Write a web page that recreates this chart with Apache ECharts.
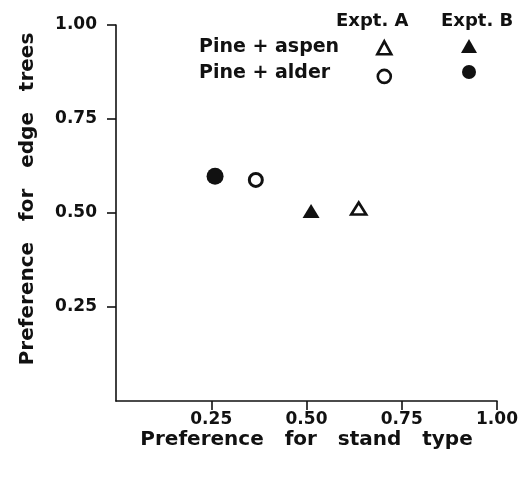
<!DOCTYPE html>
<html>
<head>
<meta charset="utf-8">
<script src="https://cdn.jsdelivr.net/npm/echarts@6/dist/echarts.min.js"></script>
<style>html,body{margin:0;padding:0;background:#fff;}#c{width:529px;height:479px;}</style>
</head>
<body>
<div id="c"></div>
<script>
// Data
const tickValues = [0.25, 0.5, 0.75, 1.0];
const tickLabels = ['0.25', '0.50', '0.75', '1.00'];
const aspenA = [[0.637, 0.512]]; // Pine + aspen, Expt. A (open triangle)
const aspenB = [[0.512, 0.505]]; // Pine + aspen, Expt. B (filled triangle)
const alderA = [[0.367, 0.588]]; // Pine + alder, Expt. A (open circle)
const alderB = [[0.260, 0.598]]; // Pine + alder, Expt. B (filled circle)
const rowLabels = ['Pine + aspen', 'Pine + alder'];
const colLabels = ['Expt. A', 'Expt. B'];

const FONT = '"DejaVu Sans"';
const INK = '#111';

function fmt(v) {
  const i = tickValues.indexOf(v);
  return i >= 0 ? tickLabels[i] : '';
}

const axisCommon = {
  type: 'value', min: 0, max: 1, interval: 0.25,
  splitLine: { show: false },
  axisLine: { show: true, lineStyle: { color: INK, width: 1.6 } },
  axisTick: { show: true, inside: false, length: 9, customValues: tickValues, lineStyle: { color: INK, width: 1.6 } },
  axisLabel: { customValues: tickValues, formatter: fmt, color: INK, fontFamily: FONT, fontWeight: 'bold', fontSize: 17 },
  nameLocation: 'middle',
  nameMoveOverlap: false,
  nameTextStyle: { color: INK, fontFamily: FONT, fontWeight: 'bold', fontSize: 20 }
};

const chart = echarts.init(document.getElementById('c'), null, { renderer: 'canvas' });
chart.setOption({
  animation: false,
  backgroundColor: '#fff',
  grid: { left: 116, right: 32, top: 25, bottom: 78, containLabel: false },
  xAxis: Object.assign({}, axisCommon, {
    name: 'Preference   for   stand   type', nameGap: 29,
    axisLabel: Object.assign({}, axisCommon.axisLabel, { margin: 10 })
  }),
  yAxis: Object.assign({}, axisCommon, {
    name: 'Preference   for   edge   trees', nameGap: 78,
    nameTextStyle: Object.assign({}, axisCommon.nameTextStyle, { padding: [0, 0, 0, 28] }),
    axisLabel: Object.assign({}, axisCommon.axisLabel, { margin: 19 })
  }),
  legend: [
    { orient: 'vertical', left: 371, top: 35, itemWidth: 14, itemHeight: 13, itemGap: 13,
      itemStyle: { borderWidth: 2.6 },
      formatter: () => '', data: [rowLabels[0] + ' A', rowLabels[1] + ' A'] },
    { orient: 'vertical', left: 456, top: 34, itemWidth: 16, itemHeight: 14, itemGap: 12,
      formatter: () => '', data: [rowLabels[0] + ' B', rowLabels[1] + ' B'] }
  ],
  graphic: [
    { type: 'text', left: 336, top: 12, style: { text: colLabels[0], font: 'bold 18px ' + FONT, fill: INK } },
    { type: 'text', left: 441, top: 12, style: { text: colLabels[1], font: 'bold 18px ' + FONT, fill: INK } },
    { type: 'text', left: 199, top: 38, style: { text: rowLabels[0], font: 'bold 19px ' + FONT, fill: INK } },
    { type: 'text', left: 199, top: 64, style: { text: rowLabels[1], font: 'bold 19px ' + FONT, fill: INK } }
  ],
  series: [
    { name: rowLabels[0] + ' A', type: 'scatter', data: aspenA, symbol: 'triangle', symbolSize: [15, 12],
      itemStyle: { color: '#fff', borderColor: INK, borderWidth: 2.6, opacity: 1 } },
    { name: rowLabels[0] + ' B', type: 'scatter', data: aspenB, symbol: 'triangle', symbolSize: [17, 14],
      itemStyle: { color: INK, opacity: 1 } },
    { name: rowLabels[1] + ' A', type: 'scatter', data: alderA, symbol: 'circle', symbolSize: 13,
      itemStyle: { color: '#fff', borderColor: INK, borderWidth: 3, opacity: 1 } },
    { name: rowLabels[1] + ' B', type: 'scatter', data: alderB, symbol: 'circle', symbolSize: 17,
      itemStyle: { color: INK, opacity: 1 } }
  ]
});
</script>
</body>
</html>
